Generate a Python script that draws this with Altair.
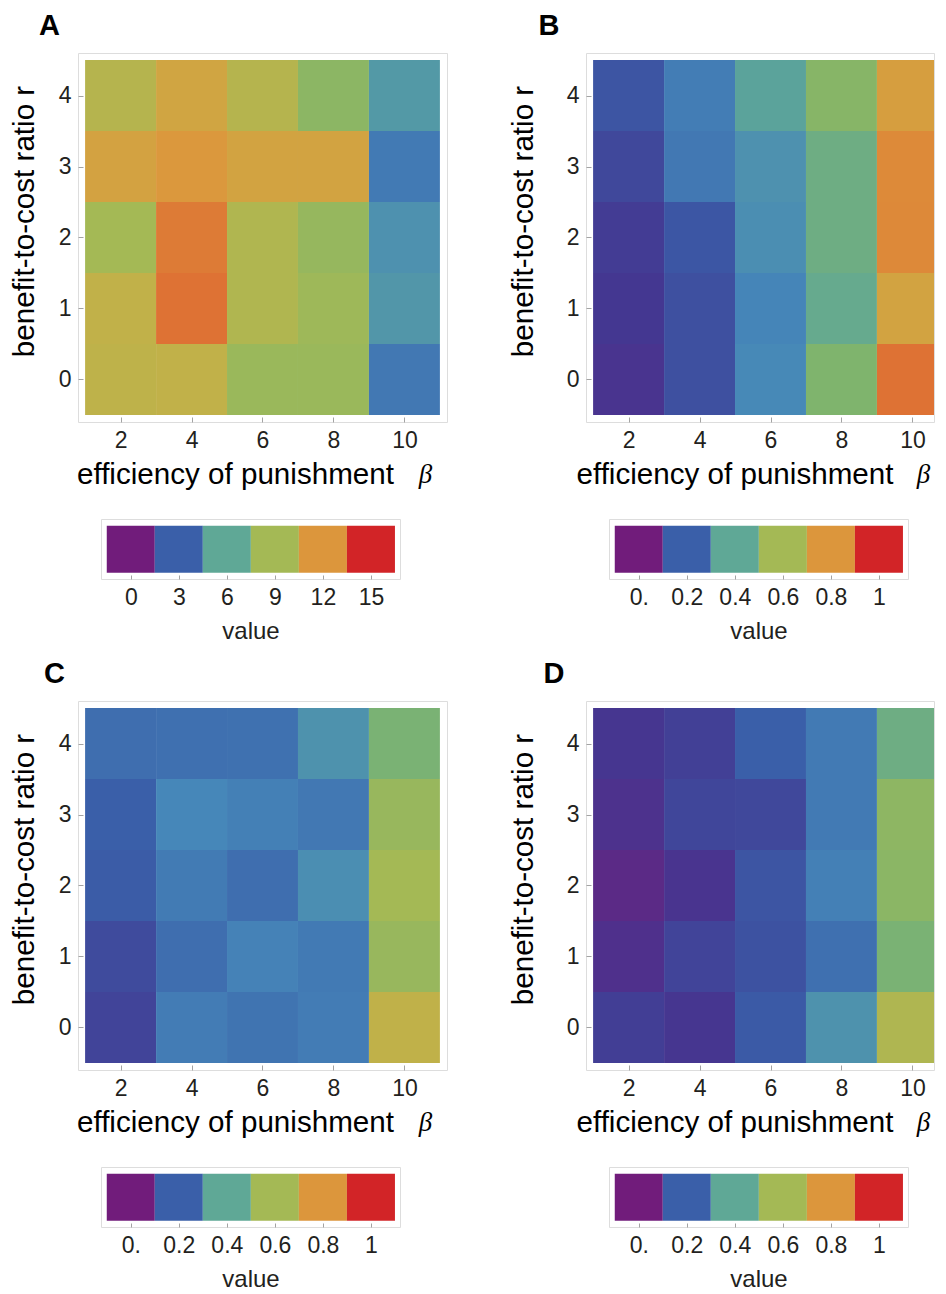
import altair as alt
import pandas as pd

# ---------------- data ----------------
BETAS = [2, 4, 6, 8, 10]          # efficiency of punishment (columns)
RS = [0, 1, 2, 3, 4]              # benefit-to-cost ratio (rows, bottom to top)

# each list: one row r (0..4), values for beta = 2,4,6,8,10
A_VALUES = [
    [10.1, 10.2, 8.6, 8.6, 3.95],
    [10.2, 13.2, 9.5, 8.75, 5.2],
    [9.0, 12.9, 9.5, 8.4, 4.95],
    [11.3, 11.9, 11.25, 11.25, 4.0],
    [9.7, 11.1, 9.7, 8.0, 5.3],
]
B_VALUES = [
    [0.09, 0.162, 0.305, 0.497, 0.88],
    [0.10, 0.162, 0.295, 0.42, 0.75],
    [0.112, 0.178, 0.32, 0.445, 0.83],
    [0.143, 0.263, 0.33, 0.445, 0.827],
    [0.175, 0.275, 0.385, 0.52, 0.77],
]
C_VALUES = [
    [0.133, 0.273, 0.253, 0.273, 0.678],
    [0.15, 0.238, 0.288, 0.268, 0.567],
    [0.193, 0.27, 0.238, 0.32, 0.6],
    [0.2, 0.3, 0.283, 0.263, 0.567],
    [0.238, 0.243, 0.245, 0.333, 0.482],
]
D_VALUES = [
    [0.117, 0.095, 0.188, 0.333, 0.63],
    [0.075, 0.133, 0.168, 0.243, 0.482],
    [0.05, 0.09, 0.175, 0.283, 0.53],
    [0.08, 0.138, 0.143, 0.268, 0.54],
    [0.095, 0.122, 0.2, 0.268, 0.445],
]

LEGEND_A = [0, 3, 6, 9, 12, 15]
LEGEND_P = [0, 0.2, 0.4, 0.6, 0.8, 1]

PALETTE = ["#711c7b", "#443791", "#3a5fa9", "#4687b9", "#5fa896", "#80b46c",
           "#a4b955", "#c8af46", "#dc963c", "#de6932", "#d22427"]
STOPS = [k / 10 for k in range(11)]

# ---------------- style ----------------
FONT = "Liberation Sans"
FRAME = "#a3a3a3"
TXT = "#231f20"
PLOT_H = 369
PX_PER_UNIT = 369 / 10.4
LEG_W = 299
LEG_H = 60
SPACER_W = 22

COLOR_SCALE = alt.Scale(domain=STOPS, range=PALETTE, interpolate="rgb")


def heat(letter, rows, vmax, width, beta_x, ytitle_pad, xtitle_x, letter_dx):
    recs = []
    for i, r in enumerate(RS):
        for j, b in enumerate(BETAS):
            recs.append({"beta": b, "r": r, "value": rows[i][j]})
    df = pd.DataFrame(recs)
    xmax = 0.8 + width / PX_PER_UNIT

    rect = alt.Chart(df).transform_calculate(
        b0="datum.beta - 1", b1="datum.beta + 1",
        r0="datum.r - 0.5", r1="datum.r + 0.5",
        t=f"datum.value / {vmax}",
    ).mark_rect(strokeWidth=0, clip=True).encode(
        x=alt.X("b0:Q",
                scale=alt.Scale(domain=[0.8, xmax], nice=False, zero=False),
                axis=alt.Axis(values=BETAS, title="efficiency of punishment",
                              grid=False, domain=False, tickColor=FRAME,
                              tickSize=5, offset=-5, labelFont=FONT,
                              labelFontSize=23, labelColor=TXT, labelPadding=7,
                              titleFont=FONT, titleFontSize=29.6,
                              titleFontWeight="normal", titleColor="black",
                              titleAnchor="start", titleAlign="left",
                              titleX=xtitle_x, titlePadding=8)),
        x2="b1:Q",
        y=alt.Y("r0:Q",
                scale=alt.Scale(domain=[-0.6, 4.6], nice=False, zero=False),
                axis=alt.Axis(values=RS, title="benefit-to-cost ratio r",
                              grid=False, domain=False, tickColor=FRAME,
                              tickSize=5, offset=-5, labelFont=FONT,
                              labelFontSize=23, labelColor=TXT, labelPadding=7,
                              titleFont=FONT, titleFontSize=29.6,
                              titleFontWeight="normal", titleColor="black",
                              titlePadding=ytitle_pad, titleY=168)),
        y2="r1:Q",
        color=alt.Color("t:Q", scale=COLOR_SCALE, legend=None),
    )

    beta_lbl = alt.Chart(pd.DataFrame({"s": ["β"]})).mark_text(
        font="Liberation Serif", fontStyle="italic", fontSize=27,
        baseline="alphabetic", align="center", color="black",
    ).encode(text="s:N", x=alt.value(beta_x), y=alt.value(430))

    return alt.layer(rect, beta_lbl).properties(
        width=width, height=PLOT_H,
        title=alt.TitleParams(text=letter, anchor="start", frame="group",
                              dx=letter_dx, offset=12, font=FONT, fontSize=29,
                              fontWeight="bold", color="black"),
    )


def legend(vals, vmax, label_expr):
    half = vmax / 10
    dom = [-0.124 * vmax, 1.121 * vmax]
    df = pd.DataFrame({"v": vals})
    axis_kw = dict(values=vals, title="value", grid=False, domain=False,
                   tickColor=FRAME, tickSize=4, offset=-4, labelFont=FONT,
                   labelFontSize=23, labelColor=TXT, labelPadding=7,
                   titleFont=FONT, titleFontSize=24, titleFontWeight="normal",
                   titleColor=TXT, titlePadding=10)
    if label_expr:
        axis_kw["labelExpr"] = label_expr
    bar = alt.Chart(df).transform_calculate(
        v0=f"datum.v - {half}", v1=f"datum.v + {half}",
        t=f"datum.v / {vmax}",
    ).mark_rect(strokeWidth=0).encode(
        x=alt.X("v0:Q", scale=alt.Scale(domain=dom, nice=False, zero=False),
                axis=alt.Axis(**axis_kw)),
        x2="v1:Q",
        y=alt.value(6.7), y2=alt.value(53.7),
        color=alt.Color("t:Q", scale=COLOR_SCALE, legend=None),
    ).properties(width=LEG_W, height=LEG_H)

    spacer = alt.Chart(pd.DataFrame({"a": [0]})).mark_point(opacity=0).encode(
        x=alt.value(0), y=alt.value(0)
    ).properties(width=SPACER_W, height=LEG_H,
                 view=alt.ViewBackground(strokeOpacity=0, fill="white"))
    return alt.hconcat(spacer, bar, spacing=0)


def panel(letter, rows, vmax, vals, label_expr, width, beta_x, ypad, xtx, ldx):
    return alt.vconcat(heat(letter, rows, vmax, width, beta_x, ypad, xtx, ldx),
                       legend(vals, vmax, label_expr), spacing=26)


PROB_EXPR = "datum.value == 0 ? '0.' : format(datum.value, '.1~f')"

pA = panel("A", A_VALUES, 15, LEGEND_A, None, 369, 347.5, 19, -1.5, -39)
pB = panel("B", B_VALUES, 1, LEGEND_P, PROB_EXPR, 348, 337.5, 27.4, -10, -47.4)
pC = panel("C", C_VALUES, 1, LEGEND_P, PROB_EXPR, 369, 347.5, 19, -1.5, -34)
pD = panel("D", D_VALUES, 1, LEGEND_P, PROB_EXPR, 348, 337.5, 27.4, -10, -42.4)

chart = alt.vconcat(
    alt.hconcat(pA, pB, spacing=60),
    alt.hconcat(pC, pD, spacing=60),
    spacing=15,
).properties(
    padding={"left": 0, "top": 3, "right": 0, "bottom": 0}
).configure_view(stroke=FRAME, strokeWidth=1).configure(background="white")

chart.save("out.html", embed_options={"renderer": "svg", "actions": False})
